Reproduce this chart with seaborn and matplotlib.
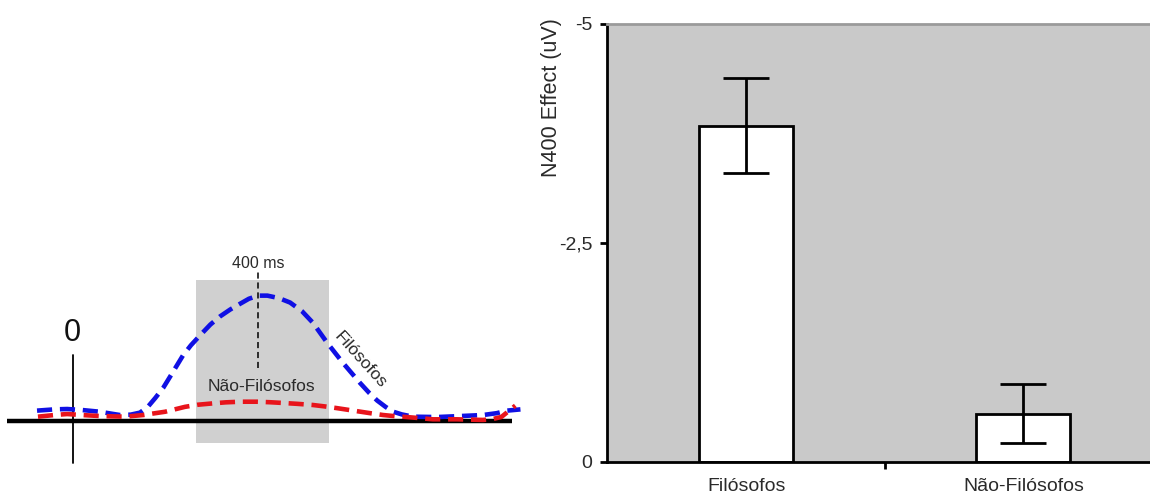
import numpy as np
import pandas as pd
import matplotlib
matplotlib.use("Agg")
import matplotlib.pyplot as plt
from matplotlib.patches import Rectangle
import seaborn as sns

# --- schematic ERP waveforms (time in ms, relative amplitude, negativity drawn up) ---
filosofos_t = [-77, -40, -12, 20, 59, 85, 102, 125, 145, 162, 178, 195, 210, 238, 255,
               275, 297, 318, 340, 361, 380, 400, 420, 445, 469, 495, 518, 549, 583,
               620, 640, 657, 675, 691, 710, 734, 786, 836, 885, 915, 937, 966]
filosofos_a = [0.08, 0.09, 0.093, 0.085, 0.071, 0.055, 0.045, 0.048, 0.064, 0.11, 0.18,
               0.26, 0.35, 0.52, 0.60, 0.68, 0.765, 0.83, 0.885, 0.93, 0.97, 0.995,
               0.995, 0.975, 0.94, 0.87, 0.78, 0.62, 0.46, 0.30, 0.22, 0.16, 0.11,
               0.072, 0.05, 0.032, 0.029, 0.037, 0.045, 0.06, 0.08, 0.09]
nao_t = [-75, -40, -12, 20, 59, 113, 152, 175, 199, 220, 242, 270, 303, 330, 361,
         398, 425, 454, 485, 518, 545, 570, 595, 620, 645, 670, 695, 721, 750, 777,
         829, 885, 905, 925, 955]
nao_a = [0.032, 0.045, 0.053, 0.045, 0.037, 0.032, 0.045, 0.058, 0.071, 0.09, 0.11,
         0.127, 0.138, 0.146, 0.151, 0.151, 0.147, 0.141, 0.134, 0.125, 0.113, 0.10,
         0.086, 0.072, 0.058, 0.045, 0.036, 0.029, 0.02, 0.011, 0.011, 0.006, 0.012,
         0.03, 0.12]

# N400 analysis window and peak latency (ms)
window = [266, 553]
peak_ms = 400

# --- N400 effect per group (uV) with error ---
groups = ["Filósofos", "Não-Filósofos"]
effect = [-3.84, -0.55]
err = [0.54, 0.335]
yticks = [-5, -2.5, 0]
ytick_labels = ["-5", "-2,5", "0"]

sns.set_theme(style="white")
plt.rcParams["font.family"] = ["Liberation Sans", "DejaVu Sans"]

W, H = 1150, 497
fig = plt.figure(figsize=(W / 100, H / 100), dpi=100)

# ---------------- left: schematic waveforms ----------------
axL = fig.add_axes([0, 17 / H, 530 / W, 240 / H])
axL.set_xlim(-156.9, 986.6)
axL.set_ylim(-0.4718, 1.4376)
axL.axis("off")

axL.add_patch(Rectangle((window[0], -0.18), window[1] - window[0], 1.30,
                        facecolor="#d0d0d0", edgecolor="none", zorder=0))
axL.plot([-141, 948], [0, 0], color="black", lw=3.2, solid_capstyle="butt", zorder=1)
axL.plot([0, 0], [-0.34, 0.52], color="black", lw=1.3, zorder=1)
axL.plot([peak_ms, peak_ms], [0.42, 1.18], color="black", lw=1.1,
         linestyle=(0, (4, 2.5)), zorder=1)

sns.lineplot(x=filosofos_t, y=filosofos_a, ax=axL, color="#1010e4", lw=3.3,
             linestyle=(0, (3.3, 1.7)), estimator=None, sort=False, zorder=3)
sns.lineplot(x=nao_t, y=nao_a, ax=axL, color="#e8141b", lw=3.3,
             linestyle=(0, (3.3, 1.7)), estimator=None, sort=False, zorder=4)

txt = "#2a2a2a"
axL.text(0, 0.70, "0", fontsize=22, ha="center", va="center", color="#111111")
axL.text(peak_ms, 1.25, "400 ms", fontsize=11.5, ha="center", va="center", color=txt)
axL.text(408, 0.27, "Não-Filósofos", fontsize=12.5, ha="center", va="center", color=txt)
axL.text(620, 0.48, "Filósofos", fontsize=12.5, ha="center", va="center", color=txt,
         rotation=-48, rotation_mode="anchor")

# ---------------- right: bar chart ----------------
axR = fig.add_axes([607.5 / W, (H - 461.7) / H, (W - 607.5) / W, (461.7 - 24) / H])
df = pd.DataFrame({"group": groups, "effect": effect})
sns.barplot(data=df, x="group", y="effect", ax=axR, color="white", saturation=1,
            edgecolor="black", linewidth=2.0, width=0.34, errorbar=None, zorder=2)
axR.errorbar(np.arange(len(groups)), effect, yerr=err, fmt="none", ecolor="black",
             elinewidth=2.0, capsize=16.5, capthick=2.0, zorder=3)

axR.set_facecolor("#c9c9c9")
axR.set_ylim(0, -5)
axR.set_xlim(-0.5, 1.457)
axR.set_yticks(yticks, ytick_labels)
axR.set_xticks(range(len(groups)), groups)
axR.set_xticks([0.5], minor=True)
axR.set_xlabel("")
axR.set_ylabel("N400 Effect (uV)", fontsize=15.5, color=txt)
axR.yaxis.set_label_coords(-0.103, 0.831)
axR.yaxis.label.set_va("center")

axR.tick_params(axis="y", left=True, direction="out", length=5, width=2,
                pad=6, labelsize=14, labelcolor=txt, color="black")
axR.tick_params(axis="x", which="major", bottom=False, length=0, pad=12,
                labelsize=14, labelcolor=txt)
axR.tick_params(axis="x", which="minor", bottom=True, direction="out",
                length=5, width=2, color="black")

for side in ["left", "bottom"]:
    axR.spines[side].set_color("black")
    axR.spines[side].set_linewidth(2.0)
axR.spines["right"].set_visible(False)
axR.spines["top"].set_color("#9a9a9a")
axR.spines["top"].set_linewidth(2.0)

fig.savefig("out.png", dpi=100, facecolor="white")
